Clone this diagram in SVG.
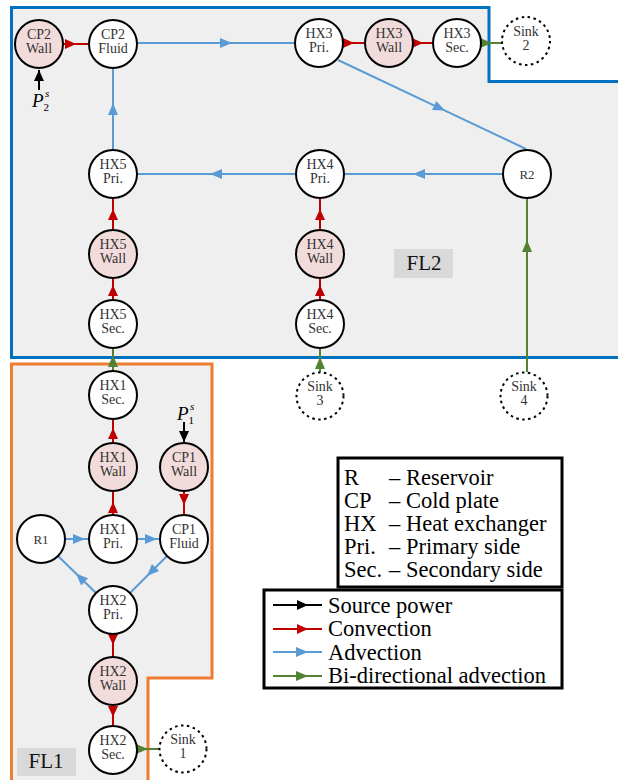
<svg xmlns="http://www.w3.org/2000/svg" width="618" height="780" viewBox="0 0 618 780">
  <style>
    text { font-family: "Liberation Serif", Tinos, "Times New Roman", "DejaVu Serif", serif; }
    .n circle { stroke: #000; stroke-width: 2; fill: #fff; }
    .w circle { fill: #f2dcdb; }
    .s circle { fill: #fff; stroke-dasharray: 2.5 3.5; }
    .n text { font-size: 14px; fill: #333; text-anchor: middle; }
    .c { fill: none; stroke-width: 2; }
    .adv { stroke: #5b9bd5; marker-mid: url(#hb); }
    .cnv { stroke: #c00000; marker-mid: url(#hr); }
    .bi { stroke: #548235; marker-mid: url(#hg); }
    .src { stroke: #000; }
    .lg { font-size: 22.5px; fill: #000; }
    .fl { font-size: 21px; fill: #111; text-anchor: middle; }
    .pw { font-style: italic; fill: #000; }
  </style>
  <defs>
    <marker id="hb" markerUnits="userSpaceOnUse" markerWidth="12" markerHeight="10" refX="12" refY="5" orient="auto" overflow="visible">
      <path d="M0,0 L12,5 L0,10 Z" fill="#5b9bd5"/>
    </marker>
    <marker id="hr" markerUnits="userSpaceOnUse" markerWidth="11" markerHeight="10" refX="11" refY="5" orient="auto" overflow="visible">
      <path d="M0,0 L11,5 L0,10 Z" fill="#c00000"/>
    </marker>
    <marker id="hg" markerUnits="userSpaceOnUse" markerWidth="12" markerHeight="10" refX="12" refY="5" orient="auto" overflow="visible">
      <path d="M0,0 L12,5 L0,10 Z" fill="#548235"/>
    </marker>
    <marker id="hk" markerUnits="userSpaceOnUse" markerWidth="11" markerHeight="10" refX="11" refY="5" orient="auto" overflow="visible">
      <path d="M0,0 L11,5 L0,10 Z" fill="#000"/>
    </marker>
  </defs>

  <!-- fluid loop regions -->
  <g id="fl2">
    <path d="M11.5,7.5 H489 V81.5 H630 V357.5 H11.5 Z" fill="#efefef" stroke="#0070c0" stroke-width="3"/>
    <rect x="394" y="249" width="59" height="29" fill="#d9d9d9"/>
    <text class="fl" x="424" y="270">FL2</text>
  </g>
  <g id="fl1">
    <path d="M11.5,364 H212 V678 H148 V790 H11.5 Z" fill="#efefef" stroke="#ed7d31" stroke-width="3"/>
    <rect x="17" y="748" width="59" height="28" fill="#d9d9d9"/>
    <text class="fl" x="46" y="768">FL1</text>
  </g>

  <!-- connectors -->
  <g id="connectors">
    <!-- advection -->
    <path class="c adv" d="M137,43 L232,43 L295,43"/>
    <path class="c adv" d="M338,60 L445,110.6 L526,149"/>
    <path class="c adv" d="M503,174 L413,174 L344,174"/>
    <path class="c adv" d="M296,174 L210,174 L137,174"/>
    <path class="c adv" d="M113,150 L113,103 L113,68"/>
    <path class="c adv" d="M65,539 L85,539 L89,539"/>
    <path class="c adv" d="M137,539 L157,539 L160,539"/>
    <path class="c adv" d="M167,556 L147,576 L130,593"/>
    <path class="c adv" d="M96,593 L76,573.5 L58,556"/>
    <!-- convection -->
    <path class="c cnv" d="M63,44 L76,44 L88,44"/>
    <path class="c cnv" d="M343,43 L354,43 L364,43"/>
    <path class="c cnv" d="M413,43 L423,43 L432,43"/>
    <path class="c cnv" d="M113,300 L113,285 L113,278"/>
    <path class="c cnv" d="M113,230 L113,209 L113,198"/>
    <path class="c cnv" d="M320,300 L320,285 L320,278"/>
    <path class="c cnv" d="M320,230 L320,209 L320,198"/>
    <path class="c cnv" d="M113,515 L113,502 L113,491"/>
    <path class="c cnv" d="M113,443 L113,428 L113,419"/>
    <path class="c cnv" d="M184,491 L184,505 L184,515"/>
    <path class="c cnv" d="M113,634 L113,645 L113,657"/>
    <path class="c cnv" d="M113,705 L113,717 L113,726"/>
    <!-- bi-directional advection -->
    <path class="c bi" d="M481,43 L492,43 L502,43"/>
    <path class="c bi" d="M113,371 L113,355 L113,348"/>
    <path class="c bi" d="M320,372 L320,357 L320,348"/>
    <path class="c bi" d="M527,372 L527,240 L527,198"/>
    <path class="c bi" d="M137,749 L148,749 L159,749"/>
    <!-- source power -->
    <path class="c src" d="M39,90 L39,70" marker-end="url(#hk)"/>
    <path class="c src" d="M184,422 L184,442" marker-end="url(#hk)"/>
  </g>

  <!-- source power labels -->
  <g id="p2s">
    <text class="pw" x="32" y="107" font-size="19">P</text>
    <text class="pw" x="45" y="97" font-size="11">s</text>
    <text x="43.5" y="111" font-size="11">2</text>
  </g>
  <g id="p1s">
    <text class="pw" x="177" y="420" font-size="19">P</text>
    <text class="pw" x="190" y="410" font-size="11">s</text>
    <text x="188.5" y="424" font-size="11">1</text>
  </g>

  <!-- nodes -->
  <g id="cp2_wall" class="n w"><circle cx="39" cy="44" r="24"/><text x="39" y="39">CP2</text><text x="39" y="53">Wall</text></g>
  <g id="cp2_fluid" class="n"><circle cx="113" cy="44" r="24"/><text x="113" y="39">CP2</text><text x="113" y="53">Fluid</text></g>
  <g id="hx3_pri" class="n"><circle cx="319" cy="43" r="24"/><text x="319" y="38">HX3</text><text x="319" y="52">Pri.</text></g>
  <g id="hx3_wall" class="n w"><circle cx="389" cy="43" r="24"/><text x="389" y="38">HX3</text><text x="389" y="52">Wall</text></g>
  <g id="hx3_sec" class="n"><circle cx="457" cy="43" r="24"/><text x="457" y="38">HX3</text><text x="457" y="52">Sec.</text></g>
  <g id="sink2" class="n s"><circle cx="526" cy="41" r="24"/><text x="526" y="36">Sink</text><text x="526" y="50">2</text></g>

  <g id="hx5_pri" class="n"><circle cx="113" cy="174" r="24"/><text x="113" y="169">HX5</text><text x="113" y="183">Pri.</text></g>
  <g id="hx4_pri" class="n"><circle cx="320" cy="174" r="24"/><text x="320" y="169">HX4</text><text x="320" y="183">Pri.</text></g>
  <g id="r2" class="n"><circle cx="527" cy="174" r="24"/><text x="527" y="178.5" style="font-size:13px">R2</text></g>

  <g id="hx5_wall" class="n w"><circle cx="113" cy="254" r="24"/><text x="113" y="249">HX5</text><text x="113" y="263">Wall</text></g>
  <g id="hx4_wall" class="n w"><circle cx="320" cy="254" r="24"/><text x="320" y="249">HX4</text><text x="320" y="263">Wall</text></g>

  <g id="hx5_sec" class="n"><circle cx="113" cy="324" r="24"/><text x="113" y="319">HX5</text><text x="113" y="333">Sec.</text></g>
  <g id="hx4_sec" class="n"><circle cx="320" cy="324" r="24"/><text x="320" y="319">HX4</text><text x="320" y="333">Sec.</text></g>

  <g id="sink3" class="n s"><circle cx="320" cy="396" r="23.5"/><text x="320" y="391">Sink</text><text x="320" y="405">3</text></g>
  <g id="sink4" class="n s"><circle cx="524" cy="396" r="23.5"/><text x="524" y="391">Sink</text><text x="524" y="405">4</text></g>

  <g id="hx1_sec" class="n"><circle cx="113" cy="395" r="24"/><text x="113" y="390">HX1</text><text x="113" y="404">Sec.</text></g>
  <g id="hx1_wall" class="n w"><circle cx="113" cy="467" r="24"/><text x="113" y="462">HX1</text><text x="113" y="476">Wall</text></g>
  <g id="cp1_wall" class="n w"><circle cx="184" cy="467" r="24"/><text x="184" y="462">CP1</text><text x="184" y="476">Wall</text></g>

  <g id="r1" class="n"><circle cx="41" cy="539" r="24"/><text x="41" y="543.5" style="font-size:13px">R1</text></g>
  <g id="hx1_pri" class="n"><circle cx="113" cy="539" r="24"/><text x="113" y="534">HX1</text><text x="113" y="548">Pri.</text></g>
  <g id="cp1_fluid" class="n"><circle cx="184" cy="539" r="24"/><text x="184" y="534">CP1</text><text x="184" y="548">Fluid</text></g>

  <g id="hx2_pri" class="n"><circle cx="113" cy="610" r="24"/><text x="113" y="605">HX2</text><text x="113" y="619">Pri.</text></g>
  <g id="hx2_wall" class="n w"><circle cx="113" cy="681" r="24"/><text x="113" y="676">HX2</text><text x="113" y="690">Wall</text></g>
  <g id="hx2_sec" class="n"><circle cx="113" cy="750" r="24"/><text x="113" y="745">HX2</text><text x="113" y="759">Sec.</text></g>
  <g id="sink1" class="n s"><circle cx="183" cy="749" r="23.5"/><text x="183" y="744">Sink</text><text x="183" y="758">1</text></g>

  <!-- abbreviation key -->
  <g id="key_abbrev">
    <rect x="338" y="458" width="224" height="129" fill="#fff" stroke="#000" stroke-width="3"/>
    <g class="lg">
      <text x="344" y="485">R</text><text x="389" y="485">–</text><text x="406" y="485">Reservoir</text>
      <text x="344" y="508">CP</text><text x="389" y="508">–</text><text x="406" y="508">Cold plate</text>
      <text x="344" y="531">HX</text><text x="389" y="531">–</text><text x="406" y="531">Heat exchanger</text>
      <text x="344" y="554">Pri.</text><text x="389" y="554">–</text><text x="406" y="554">Primary side</text>
      <text x="344" y="577">Sec.</text><text x="389" y="577">–</text><text x="406" y="577">Secondary side</text>
    </g>
  </g>

  <!-- connector key -->
  <g id="key_links">
    <rect x="264" y="590" width="298" height="98" fill="#fff" stroke="#000" stroke-width="3"/>
    <path class="c" stroke="#000" d="M273,605 L308,605 L322,605" marker-mid="url(#hk)"/>
    <path class="c cnv" d="M273,629 L308,629 L322,629"/>
    <path class="c adv" d="M273,652 L308,652 L322,652"/>
    <path class="c bi" d="M273,676 L308,676 L322,676"/>
    <g class="lg">
      <text x="328" y="613">Source power</text>
      <text x="328" y="636">Convection</text>
      <text x="328" y="660">Advection</text>
      <text x="328" y="683">Bi-directional advection</text>
    </g>
  </g>
</svg>
